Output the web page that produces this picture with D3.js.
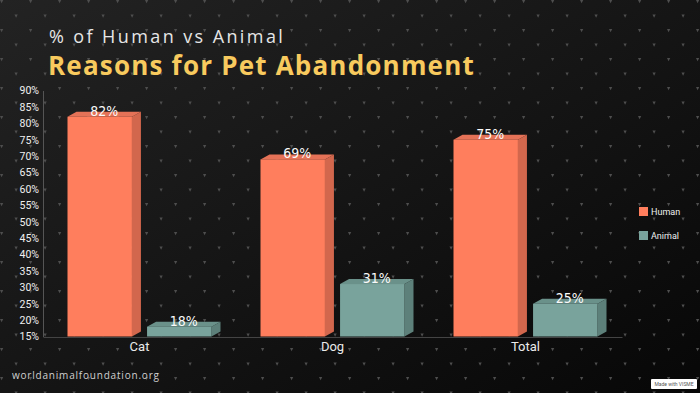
<!DOCTYPE html>
<html>
<head>
<meta charset="utf-8">
<script src="https://cdn.jsdelivr.net/npm/d3@7"></script>
<style>
  html, body { margin: 0; padding: 0; background: #111; }
  svg { display: block; }
</style>
</head>
<body>
<div id="chart"></div>
<script>
// data
const categories = ["Cat", "Dog", "Total"];
const seriesNames = ["Human", "Animal"];
const humanValues = [82, 69, 75];
const animalValues = [18, 31, 25];
const yTicks = [15, 20, 25, 30, 35, 40, 45, 50, 55, 60, 65, 70, 75, 80, 85, 90];

const W = 700, H = 393;
const depthX = 9, depthY = 5;

const colors = {
  Human:  { front: "#ff7e5d", side: "#d2674d", top: "#e57257" },
  Animal: { front: "#79a39c", side: "#5d807a", top: "#6a918a" }
};

const rows = categories.map((c, i) => ({ cat: c, Human: humanValues[i], Animal: animalValues[i] }));

const svg = d3.select("#chart").append("svg")
  .attr("width", W).attr("height", H);

const defs = svg.append("defs");
const grad = defs.append("linearGradient").attr("id", "bg")
  .attr("x1", "0").attr("y1", "0").attr("x2", "1").attr("y2", "1");
grad.append("stop").attr("offset", "0").attr("stop-color", "#232323");
grad.append("stop").attr("offset", "0.5").attr("stop-color", "#151515");
grad.append("stop").attr("offset", "1").attr("stop-color", "#070707");

// little "v" marks all over the background
const pat = defs.append("pattern").attr("id", "dots")
  .attr("patternUnits", "userSpaceOnUse")
  .attr("width", 29).attr("height", 29);
const vmark = (x, y) => `M${x - 1.6},${y - 1.5}L${x + 1.6},${y - 1.5}L${x},${y + 1.6}Z`;
pat.append("path").attr("d", vmark(1.6, 1.6) + vmark(16.1, 16.1)).attr("fill", "#4e4e4e");

svg.append("rect").attr("width", W).attr("height", H).attr("fill", "url(#bg)");
svg.append("rect").attr("x", -1.6).attr("y", -1.6).attr("width", W + 4).attr("height", H + 4)
  .attr("fill", "url(#dots)");

// titles
svg.append("text")
  .attr("x", 49).attr("y", 43)
  .attr("font-family", "'Open Sans', sans-serif")
  .attr("font-size", 18).attr("font-weight", 400)
  .attr("letter-spacing", 2.4)
  .attr("fill", "#e6e6e6")
  .text("% of Human vs Animal");

svg.append("text")
  .attr("x", 48).attr("y", 75)
  .attr("font-family", "'Open Sans', sans-serif")
  .attr("font-size", 26).attr("font-weight", 700)
  .attr("letter-spacing", 1.2)
  .attr("fill", "#f8ca5e")
  .text("Reasons for Pet Abandonment");

// scales
const y = d3.scaleLinear().domain([15, 90]).range([336.5, 90.5]);
const x0 = d3.scaleBand().domain(categories).range([43, 622]);
const x1 = d3.scaleBand().domain(seriesNames).range([24.5, 168.5]).paddingInner(0.19);

// axes
const yAxis = svg.append("g").attr("transform", "translate(43,0)")
  .call(d3.axisLeft(y).tickValues(yTicks).tickSize(0).tickPadding(4).tickFormat(d => d + "%"));
yAxis.select(".domain").attr("stroke", "#555");
yAxis.selectAll("text")
  .attr("fill", "#f0f0f0")
  .attr("font-family", "'Liberation Sans Narrow', 'Roboto', sans-serif")
  .attr("font-size", 10.5);

const xAxis = svg.append("g").attr("transform", "translate(0,337)")
  .call(d3.axisBottom(x0).tickSize(0).tickPadding(5));
xAxis.select(".domain").attr("stroke", "#444");
xAxis.selectAll("text")
  .attr("fill", "#eaeaea")
  .attr("font-family", "Roboto, sans-serif")
  .attr("font-size", 13);

// 3d bars
const groups = svg.append("g").selectAll("g")
  .data(rows).join("g")
  .attr("transform", d => `translate(${x0(d.cat)},0)`);

const bars = groups.selectAll("g")
  .data(d => seriesNames.map(k => ({ key: k, value: d[k] })))
  .join("g");

bars.each(function (d) {
  const g = d3.select(this);
  const bx = x1(d.key), bw = x1.bandwidth();
  const ty = y(d.value), by = y(15);
  const c = colors[d.key];
  // side
  g.append("path")
    .attr("d", `M${bx + bw},${ty}L${bx + bw + depthX},${ty - depthY}L${bx + bw + depthX},${by - depthY}L${bx + bw},${by}Z`)
    .attr("fill", c.side);
  // top
  g.append("path")
    .attr("d", `M${bx},${ty}L${bx + depthX},${ty - depthY}L${bx + bw + depthX},${ty - depthY}L${bx + bw},${ty}Z`)
    .attr("fill", c.top);
  // front
  g.append("rect")
    .attr("x", bx).attr("y", ty)
    .attr("width", bw).attr("height", by - ty)
    .attr("fill", c.front);
  // value label
  g.append("text")
    .attr("x", bx + (bw + depthX) / 2)
    .attr("y", ty - 1)
    .attr("text-anchor", "middle")
    .attr("font-family", "'Liberation Sans Narrow', 'DejaVu Sans Condensed', sans-serif")
    .attr("font-size", 14)
    .attr("fill", "#fafafa")
    .text(d.value + "%");
});

// legend
const legend = svg.append("g").selectAll("g")
  .data(seriesNames).join("g")
  .attr("transform", (d, i) => `translate(639,${207 + i * 24})`);
legend.append("rect").attr("width", 9).attr("height", 9).attr("fill", d => colors[d].front);
legend.append("text")
  .attr("x", 12).attr("y", 8)
  .attr("font-family", "Roboto, sans-serif")
  .attr("font-size", 9)
  .attr("fill", "#f0f0f0")
  .text(d => d);

// footer
svg.append("text")
  .attr("x", 12).attr("y", 379)
  .attr("font-family", "'Open Sans', sans-serif")
  .attr("font-size", 10)
  .attr("letter-spacing", 0.8)
  .attr("fill", "#d0d0d0")
  .text("worldanimalfoundation.org");

svg.append("rect").attr("x", 651).attr("y", 379).attr("width", 46).attr("height", 10)
  .attr("fill", "#fff").attr("rx", 1);
svg.append("text")
  .attr("x", 674).attr("y", 386)
  .attr("text-anchor", "middle")
  .attr("font-family", "Roboto, sans-serif")
  .attr("font-size", 5)
  .attr("fill", "#555")
  .text("Made with VISME");
</script>
</body>
</html>
